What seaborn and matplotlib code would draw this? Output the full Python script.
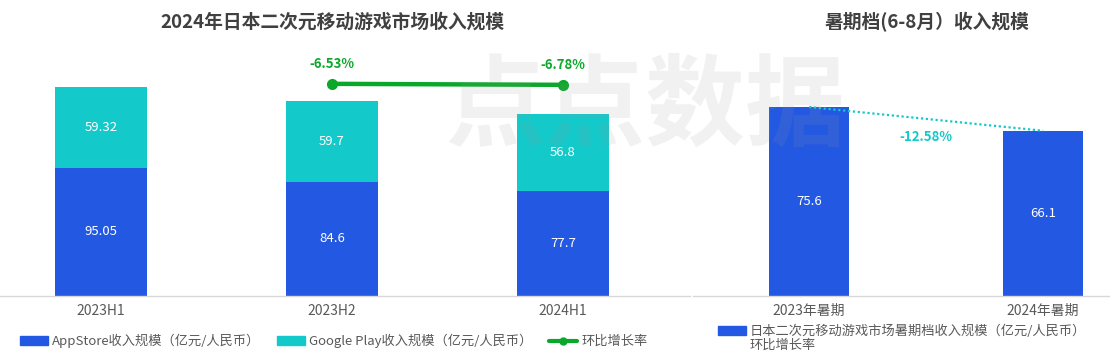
"""
2024年日本二次元移动游戏市场收入规模 + 暑期档收入规模
"""

import numpy as np
import pandas as pd
import matplotlib
matplotlib.use('Agg')
import matplotlib.pyplot as plt
import seaborn as sns
from matplotlib.patches import Patch
from matplotlib.lines import Line2D

# Dados do gráfico
periods = ['2023H1', '2023H2', '2024H1']
appstore = [95.05, 84.6, 77.7]
google_play = [59.32, 59.7, 56.8]
growth_periods = ['2023H2', '2024H1']
growth = [-6.53, -6.78]

summer_periods = ['2023年暑期', '2024年暑期']
summer_revenue = [75.6, 66.1]
summer_growth = -12.58

BLUE = '#2358E2'
CYAN = '#13C9C9'
GREEN = '#0AA82A'
TEXT = '#404040'
TICK = '#595959'

sns.set_theme(style='white')
plt.rcParams['font.family'] = ['Noto Sans CJK SC', 'DejaVu Sans']

W, H = 1110, 361
fig = plt.figure(figsize=(W / 100, H / 100), dpi=100)


def px_axes(x0, x1, base, top):
    return fig.add_axes([x0 / W, (H - base) / H, (x1 - x0) / W, (base - top) / H])


# ---------------- painel esquerdo ----------------
ax = px_axes(0, 690, 296, 50)
df = pd.DataFrame({'period': periods, 'app': appstore, 'gp': google_play})
df['total'] = df['app'] + df['gp']

sns.barplot(data=df, x='period', y='total', color=CYAN, saturation=1,
            width=0.4, linewidth=0, edgecolor='none', ax=ax)
sns.barplot(data=df, x='period', y='app', color=BLUE, saturation=1,
            width=0.4, linewidth=0, edgecolor='none', ax=ax)

for i, row in df.iterrows():
    ax.text(i, row['app'] / 2, f"{row['app']:g}", ha='center', va='center',
            color='white', fontsize=9.5)
    ax.text(i, row['app'] + row['gp'] / 2, f"{row['gp']:g}", ha='center',
            va='center', color='white', fontsize=9.5)

ax.set_xlim(-0.437, 2.55)
ax.set_ylim(0, 182)

ax2 = ax.twinx()
gx = [periods.index(p) for p in growth_periods]
ax2.plot(gx, growth, color=GREEN, lw=3.2, marker='o', ms=7, solid_capstyle='round')
for x, g in zip(gx, growth):
    ax2.annotate(f"{g:.2f}%", (x, g), xytext=(0, 14), textcoords='offset points',
                 ha='center', va='center', color=GREEN, fontsize=9.5,
                 fontweight='bold')
ax2.set_ylim(-60, 2)
ax2.set_xlim(-0.437, 2.55)
ax2.axis('off')

# ---------------- painel direito ----------------
axr = px_axes(693, 1110, 296, 50)
dfs = pd.DataFrame({'period': summer_periods, 'rev': summer_revenue})
sns.barplot(data=dfs, x='period', y='rev', color=BLUE, saturation=1,
            width=0.34, linewidth=0, edgecolor='none', ax=axr)
for i, v in enumerate(summer_revenue):
    axr.text(i, v / 2, f"{v:g}", ha='center', va='center', color='white',
             fontsize=9.5)
sx = list(range(len(summer_revenue)))
axr.plot(sx, summer_revenue, color=CYAN, lw=1.6, linestyle=(0, (1, 1.2)))
axr.annotate(f"{summer_growth:.2f}%", (np.mean(sx), np.mean(summer_revenue)),
             xytext=(0, -13), textcoords='offset points', ha='center',
             va='center', color=CYAN, fontsize=9.5, fontweight='bold')
axr.set_xlim(-0.496, 1.286)
axr.set_ylim(0, 98.4)

for a in (ax, axr):
    a.set_xlabel('')
    a.set_ylabel('')
    a.set_yticks([])
    for s in ('left', 'right', 'top'):
        a.spines[s].set_visible(False)
    a.spines['bottom'].set_color('#D9D9D9')
    a.spines['bottom'].set_linewidth(1)
    a.tick_params(axis='x', length=0, pad=6, labelsize=10, labelcolor=TICK)

# títulos
fig.text(332 / W, (H - 22) / H, '2024年日本二次元移动游戏市场收入规模',
         ha='center', va='center', fontsize=13.5, fontweight='bold', color=TEXT)
fig.text(927 / W, (H - 22) / H, '暑期档(6-8月）收入规模',
         ha='center', va='center', fontsize=13.5, fontweight='bold', color=TEXT)

# marca d'água
fig.text(645 / W, (H - 108) / H, '点点数据', ha='center', va='center',
         fontsize=72, fontweight='bold', color='#9A9A9A', alpha=0.13, zorder=10)

# legendas
left_handles = [
    Patch(color=BLUE, label='AppStore收入规模（亿元/人民币）'),
    Patch(color=CYAN, label='Google Play收入规模（亿元/人民币）'),
    Line2D([0], [0], color=GREEN, lw=3, marker='o', ms=5, label='环比增长率'),
]
fig.legend(handles=left_handles, loc='center left', bbox_to_anchor=(20 / W, 20 / H),
           ncol=3, frameon=False, fontsize=9.5, handlelength=2.1, handleheight=0.6,
           handletextpad=0.3, columnspacing=1.3, borderpad=0, borderaxespad=0,
           labelcolor=TICK)

right_handles = [
    Patch(color=BLUE, label='日本二次元移动游戏市场暑期档收入规模（亿元/人民币）'),
    Line2D([0], [0], color='none', label='环比增长率'),
]
fig.legend(handles=right_handles, loc='upper left', bbox_to_anchor=(718 / W, (H - 325) / H),
           ncol=1, frameon=False, fontsize=9.5, handlelength=2.1, handleheight=0.6,
           handletextpad=0.3, labelspacing=0.05, borderpad=0, borderaxespad=0,
           labelcolor=TICK)

fig.savefig('out.png', dpi=100)
